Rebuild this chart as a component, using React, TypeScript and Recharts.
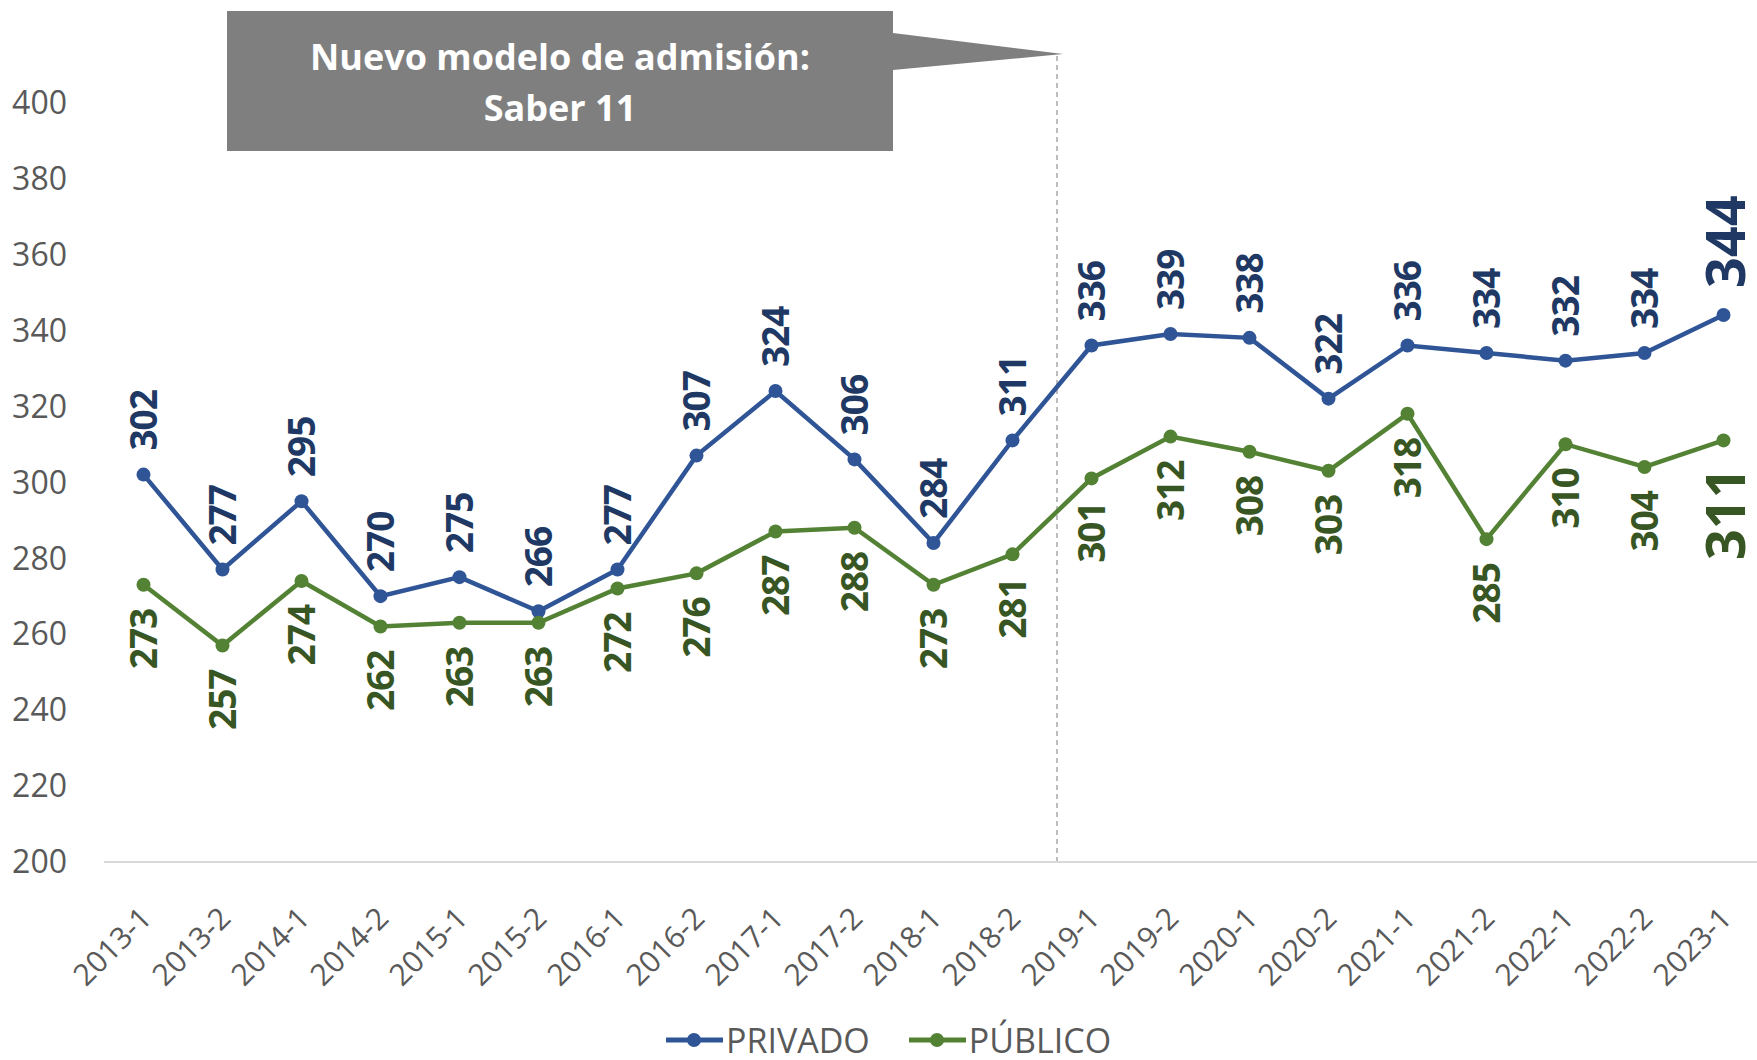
import React from 'react';
import { ComposedChart, Line, XAxis, YAxis, ReferenceLine, Legend, LabelList } from 'recharts';

const categories = ['2013-1','2013-2','2014-1','2014-2','2015-1','2015-2','2016-1','2016-2','2017-1','2017-2','2018-1','2018-2','2019-1','2019-2','2020-1','2020-2','2021-1','2021-2','2022-1','2022-2','2023-1'];
const privado = [302,277,295,270,275,266,277,307,324,306,284,311,336,339,338,322,336,334,332,334,344];
const publico = [273,257,274,262,263,263,272,276,287,288,273,281,301,312,308,303,318,285,310,304,311];
const yTicks = [200,220,240,260,280,300,320,340,360,380,400];
const calloutLines = ['Nuevo modelo de admisión:', 'Saber 11'];

const data = categories.map((c, i) => ({ cat: c, privado: privado[i], publico: publico[i] }));

const FONT = '"Open Sans", sans-serif';
const BLUE = '#2f5597';
const BLUE_DARK = '#203864';
const GREEN = '#548235';
const GREEN_DARK = '#375623';
const GRAY = '#595959';
const LAST = categories.length - 1;

const makeLabel = (color: string, above: boolean) => (props: any) => {
  const x = props.x ?? props.viewBox?.x;
  const y = props.y ?? props.viewBox?.y;
  if (x == null || y == null) return null;
  const big = props.index === LAST;
  const fs = big ? 54 : 37;
  const off = big ? 27 : 24;
  const ty = above ? y - off : y + off;
  const tx = big ? x + 2 : x;
  return (
    <text
      x={tx}
      y={ty}
      transform={`rotate(-90, ${tx}, ${ty})`}
      textAnchor={above ? 'start' : 'end'}
      dy="0.36em"
      fill={color}
      fontSize={fs}
      fontWeight={700}
      fontFamily={FONT}
      letterSpacing={big ? 0 : -1}
    >
      {props.value}
    </text>
  );
};

const XTick = (props: any) => {
  const { x, y, payload } = props;
  const ax = x + 10;
  const ay = y + 58;
  return (
    <text
      x={ax}
      y={ay}
      transform={`rotate(-45, ${ax}, ${ay})`}
      textAnchor="end"
      fill={GRAY}
      fontSize={30}
      fontFamily={FONT}
    >
      {payload.value}
    </text>
  );
};

const LegendContent = (props: any) => {
  const items = props.payload || [];
  return (
    <div style={{ position: 'relative', height: 50 }}>
      <div style={{ position: 'absolute', left: 658, top: 10, height: 40, display: 'flex', alignItems: 'center' }}>
        {items.map((it: any, i: number) => (
          <div key={i} style={{ display: 'flex', alignItems: 'center', marginRight: i === 0 ? 39 : 0 }}>
            <svg width={57} height={20} style={{ marginRight: 3 }}>
              <line x1={0} y1={10} x2={57} y2={10} stroke={it.color} strokeWidth={5} strokeLinecap="round" />
              <circle cx={28} cy={10} r={7} fill={it.color} />
            </svg>
            <span style={{ fontFamily: FONT, fontSize: 34, color: GRAY, lineHeight: '40px', whiteSpace: 'nowrap' }}>{it.value}</span>
          </div>
        ))}
      </div>
    </div>
  );
};

const DashedDivider = (p: any) => (
  <line x1={p.x1 + 5} y1={p.y1} x2={p.x2 + 5} y2={p.y2} stroke="#a6a6a6" strokeWidth={1.5} strokeDasharray="5 4" />
);

export default function App() {
  return (
    <div style={{ position: 'absolute', left: 0, top: 0, width: 1757, height: 1060, overflow: 'hidden', background: '#ffffff' }}>
      <ComposedChart
        width={1763}
        height={1060}
        data={data}
        margin={{ top: 53, right: 0, bottom: 0, left: 8 }}
      >
        <XAxis
          dataKey="cat"
          scale="band"
          tick={<XTick />}
          tickLine={false}
          tickSize={0}
          tickMargin={0}
          height={148}
          axisLine={{ stroke: '#d9d9d9', strokeWidth: 2 }}
          interval={0}
        />
        <YAxis
          type="number"
          domain={[200, 413]}
          ticks={yTicks}
          width={96}
          axisLine={false}
          tickLine={false}
          tickSize={0}
          tickMargin={37}
          tick={{ fill: GRAY, fontSize: 32, fontFamily: FONT }}
          allowDataOverflow
        />
        <ReferenceLine
          x="2019-1"
          position="start"
          stroke="#a6a6a6"
          strokeWidth={1.5}
          strokeDasharray="5 4"
          shape={<DashedDivider />}
        />
        <Legend verticalAlign="bottom" content={<LegendContent />} />
        <Line
          name="PRIVADO"
          dataKey="privado"
          stroke={BLUE}
          strokeWidth={4.5}
          dot={{ r: 7, fill: BLUE, stroke: BLUE, strokeWidth: 0 }}
          activeDot={false}
          isAnimationActive={false}
        >
          <LabelList dataKey="privado" content={makeLabel(BLUE_DARK, true)} />
        </Line>
        <Line
          name="PÚBLICO"
          dataKey="publico"
          stroke={GREEN}
          strokeWidth={4.5}
          dot={{ r: 7, fill: GREEN, stroke: GREEN, strokeWidth: 0 }}
          activeDot={false}
          isAnimationActive={false}
        >
          <LabelList dataKey="publico" content={makeLabel(GREEN_DARK, false)} />
        </Line>
      </ComposedChart>
      <svg width={1757} height={200} style={{ position: 'absolute', left: 0, top: 0, pointerEvents: 'none' }}>
        <polygon points="227,11 893,11 893,33 1063,54 893,70 893,151 227,151" fill="#7f7f7f" />
        <text x={560} y={70} textAnchor="middle" fill="#ffffff" fontSize={36} fontWeight={700} fontFamily={FONT}>{calloutLines[0]}</text>
        <text x={560} y={121} textAnchor="middle" fill="#ffffff" fontSize={36} fontWeight={700} fontFamily={FONT}>{calloutLines[1]}</text>
      </svg>
    </div>
  );
}
